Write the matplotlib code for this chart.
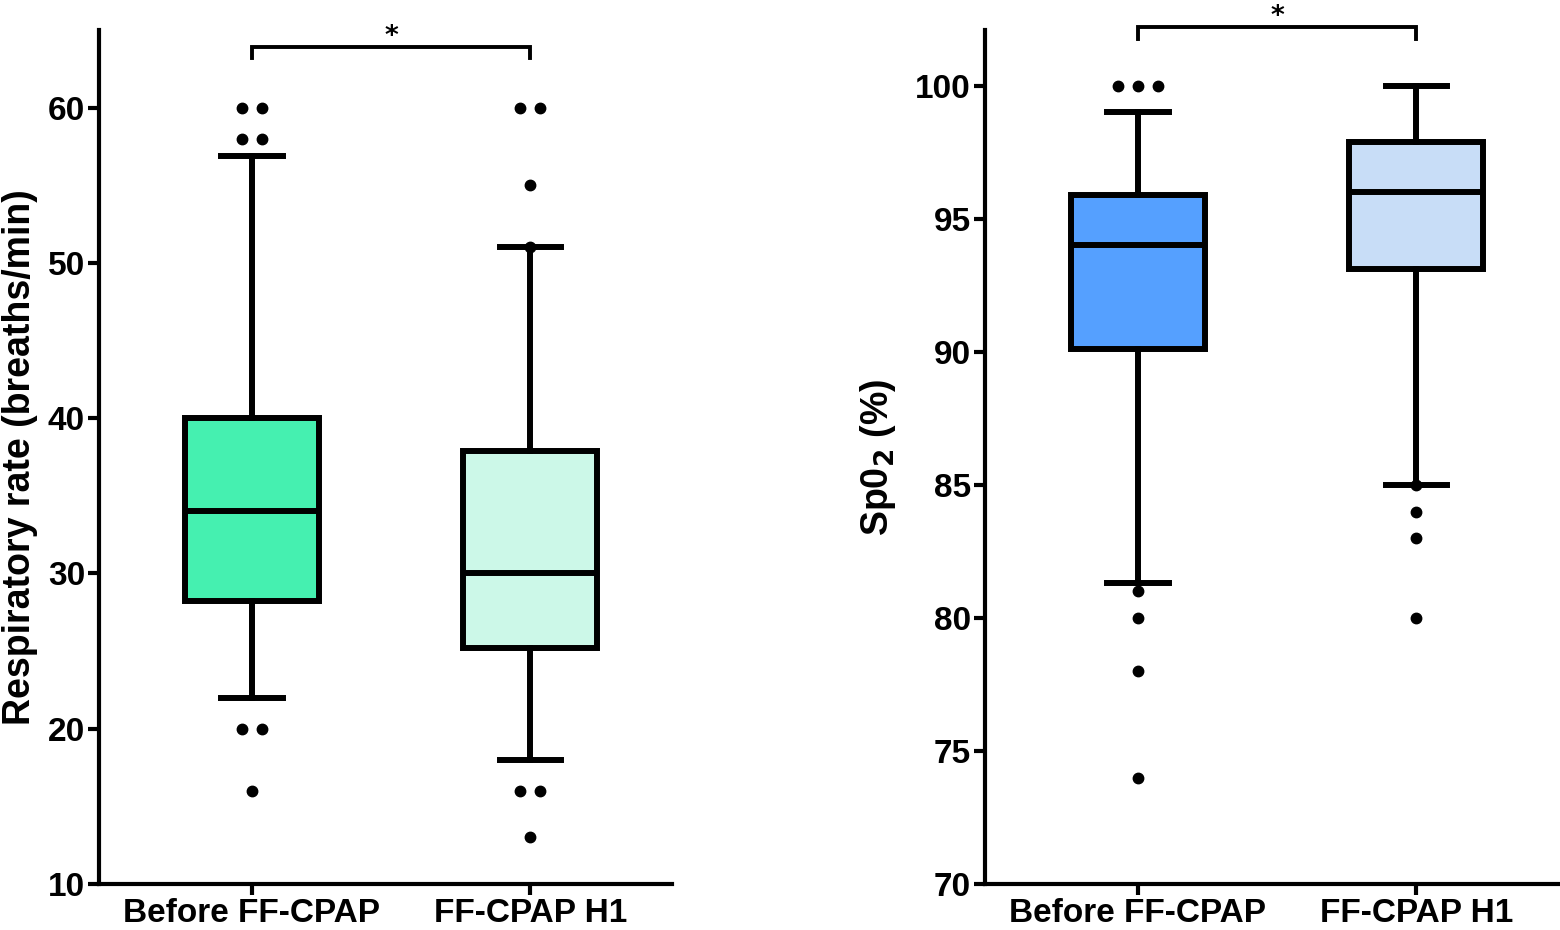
import matplotlib
matplotlib.use("Agg")
import matplotlib.pyplot as plt
from collections import Counter

# ---- data ----
groups = ["Before FF-CPAP", "FF-CPAP H1"]

# respiratory rate (breaths/min): q1, median, q3, whisker low, whisker high
rr_q1 = [28.2, 25.2]
rr_med = [34, 30]
rr_q3 = [40, 37.9]
rr_wlo = [22, 18]
rr_whi = [56.9, 51]
rr_out = [[60, 60, 58, 58, 20, 20, 16],
          [60, 60, 55, 51, 16, 16, 13]]

# SpO2 (%)
sp_q1 = [90.1, 93.1]
sp_med = [94, 96]
sp_q3 = [95.9, 97.9]
sp_wlo = [81.3, 85]
sp_whi = [99, 100]
sp_out = [[100, 100, 100, 81, 80, 78, 74],
          [85, 84, 83, 80]]

rr_colors = ["#45F0B0", "#CCF8E8"]
sp_colors = ["#55A0FF", "#C8DDF7"]

FONT = ["Liberation Sans Narrow", "Liberation Sans", "DejaVu Sans"]
plt.rcParams["font.family"] = FONT
plt.rcParams["font.weight"] = "bold"
plt.rcParams["axes.labelweight"] = "bold"
plt.rcParams["mathtext.fontset"] = "custom"
plt.rcParams["mathtext.rm"] = "Liberation Sans Narrow:bold"
plt.rcParams["mathtext.default"] = "rm"

LW = 4.3


def draw_panel(ax, q1, med, q3, wlo, whi, outl, colors, ylim, yticks,
               ylabel, label_x, bracket_y, drop):
    stats = []
    for i in range(len(groups)):
        stats.append(dict(q1=q1[i], med=med[i], q3=q3[i], whislo=wlo[i],
                          whishi=whi[i], fliers=[], label=groups[i]))
    bp = ax.bxp(stats, positions=range(len(groups)), widths=0.48,
                patch_artist=True, showfliers=False, showcaps=True,
                boxprops=dict(linewidth=LW, edgecolor="black"),
                medianprops=dict(color="black", linewidth=LW),
                whiskerprops=dict(color="black", linewidth=LW),
                capprops=dict(color="black", linewidth=LW), capwidths=0.22)
    for patch, c in zip(bp["boxes"], colors):
        patch.set_facecolor(c)

    # outliers, identical values drawn side by side
    for i, vals in enumerate(outl):
        cnt = Counter(vals)
        for v, n in cnt.items():
            for k in range(n):
                dx = (k - (n - 1) / 2) * 0.072
                ax.plot(i + dx, v, "o", color="black", markersize=7.5,
                        zorder=5, clip_on=False)

    ax.set_xlim(-0.55, 1.51)
    ax.set_ylim(*ylim)
    ax.set_yticks(yticks)
    ax.set_xticks(range(len(groups)))
    ax.set_xticklabels(groups)
    for s in ["top", "right"]:
        ax.spines[s].set_visible(False)
    for s in ["left", "bottom"]:
        ax.spines[s].set_linewidth(3)
    ax.tick_params(axis="both", width=3, length=8, labelsize=24, pad=2)
    ax.set_ylabel(ylabel, fontsize=27)
    ax.yaxis.set_label_coords(label_x, 0.5)

    # significance bracket
    ax.plot([0, 0, 1, 1], [bracket_y - drop, bracket_y, bracket_y, bracket_y - drop],
            color="black", linewidth=2.8, clip_on=False, solid_joinstyle="miter")
    ax.annotate("*", xy=(0.5, bracket_y), xytext=(0, -3),
                textcoords="offset pixels", ha="center", va="bottom",
                fontsize=19, fontweight="bold", family="DejaVu Sans",
                annotation_clip=False)


fig = plt.figure(figsize=(15.6, 9.3), dpi=100)
ax1 = fig.add_axes([99 / 1560, 46 / 930, 573 / 1560, 854 / 930])
ax2 = fig.add_axes([985 / 1560, 46 / 930, 573 / 1560, 854 / 930])

draw_panel(ax1, rr_q1, rr_med, rr_q3, rr_wlo, rr_whi, rr_out, rr_colors,
           (10, 65), [10, 20, 30, 40, 50, 60],
           "Respiratory rate (breaths/min)", -0.106, 63.9, 0.7)
draw_panel(ax2, sp_q1, sp_med, sp_q3, sp_wlo, sp_whi, sp_out, sp_colors,
           (70, 102.1), [70, 75, 80, 85, 90, 95, 100],
           r"Sp0$_2$ (%)", -0.152, 102.2, 0.45)

fig.savefig("out.png", dpi=100)
